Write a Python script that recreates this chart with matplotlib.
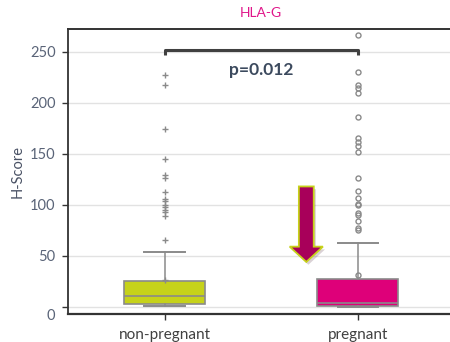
import matplotlib
matplotlib.use("Agg")
import matplotlib.pyplot as plt
import matplotlib.patheffects as pe
from matplotlib.patches import FancyArrow
from matplotlib.transforms import ScaledTranslation

# Box statistics per group (H-Score)
groups = ["non-pregnant", "pregnant"]
q1 = [3.0, 0.5]
med = [10.5, 3.5]
q3 = [25.0, 27.5]
whislo = [1.0, 0.0]
whishi = [53.5, 62.5]
means = [26.0, 31.0]
fliers_nonpreg = [227, 217, 174, 144.5, 129, 126.5, 112.5, 106, 103.5, 100,
                  98, 95, 93, 89, 66]
fliers_preg = [266, 230, 217, 214, 210, 186.5, 165, 162, 157.5, 152, 126.5,
               114, 107, 101, 99.5, 92, 90, 84, 77.5, 75]
box_colors = ["#c6d21a", "#de0079"]
flier_markers = ["+", "o"]

p_text = "p=0.012"
bracket_y = 252
bracket_drop = 5

plt.rcParams["font.family"] = ["Lato", "DejaVu Sans"]

fig = plt.figure(figsize=(4.5, 3.42), dpi=100)
ax = fig.add_axes([0.1511, 0.0819, 0.859, 0.8324])

grey = "#8a8a8a"
fliers = [fliers_nonpreg, fliers_preg]
for i, name in enumerate(groups):
    stats = [dict(label=name, q1=q1[i], med=med[i], q3=q3[i],
                  whislo=whislo[i], whishi=whishi[i], mean=means[i],
                  fliers=fliers[i])]
    mk = dict(marker=flier_markers[i], markersize=4.5 if i == 0 else 3.6,
              markerfacecolor="none", markeredgecolor=grey,
              markeredgewidth=1.0, linestyle="none")
    ax.bxp(stats, positions=[i + 1], widths=0.42, capwidths=0.21,
           patch_artist=True, showmeans=True, manage_ticks=False,
           boxprops=dict(facecolor=box_colors[i], edgecolor=grey, lw=1.2),
           medianprops=dict(color=grey, lw=1.2),
           whiskerprops=dict(color=grey, lw=1.1),
           capprops=dict(color=grey, lw=1.4),
           flierprops=mk, meanprops=mk, zorder=3)

# significance bracket
ax.plot([1, 1, 2, 2],
        [bracket_y - bracket_drop, bracket_y, bracket_y, bracket_y - bracket_drop],
        color="#404040", lw=2.2, solid_capstyle="butt", zorder=4)
ax.text(1.5, 232, p_text, ha="center", va="center", fontsize=12.5,
        fontweight="bold", color="#3c4a5e")

# highlight arrow next to the pregnant box
arrow = FancyArrow(1.733, 118, 0, -74, width=0.077, head_width=0.172,
                   head_length=15, length_includes_head=True,
                   facecolor="#a8005a", edgecolor="#c6d21a", lw=1.3, zorder=5)
arrow.set_path_effects([pe.SimplePatchShadow(offset=(1.5, -2), alpha=0.18),
                        pe.Normal()])
ax.add_patch(arrow)

ax.set_xlim(0.5, 2.5)
ax.set_ylim(-7, 272)
ax.set_xticks([1, 2])
ax.set_xticklabels(groups)
ax.set_yticks([0, 50, 100, 150, 200, 250])
ax.yaxis.grid(True, color="#e2e2e2", lw=1.0)
ax.set_axisbelow(True)

for s in ["left", "bottom", "top"]:
    ax.spines[s].set_color("#333333")
ax.spines["left"].set_linewidth(1.3)
ax.spines["bottom"].set_linewidth(1.6)
ax.spines["top"].set_linewidth(1.4)
ax.spines["right"].set_visible(False)

ax.tick_params(axis="y", length=4, width=1, color="#333333",
               labelsize=10.5, labelcolor="#5a6478", pad=5)
ax.tick_params(axis="x", length=4, width=1, color="#333333",
               labelsize=11, labelcolor="#404040", pad=6)
ax.set_ylabel("H-Score", fontsize=10.5, color="#4a5265", labelpad=4)
ax.set_title("HLA-G", fontsize=10, color="#e0168a", pad=9)

# the zero label sits a little lower than its tick
zero_lbl = ax.get_yticklabels()[0]
zero_lbl.set_transform(zero_lbl.get_transform()
                       + ScaledTranslation(0, -0.08, fig.dpi_scale_trans))

fig.savefig("out.png", dpi=100)
